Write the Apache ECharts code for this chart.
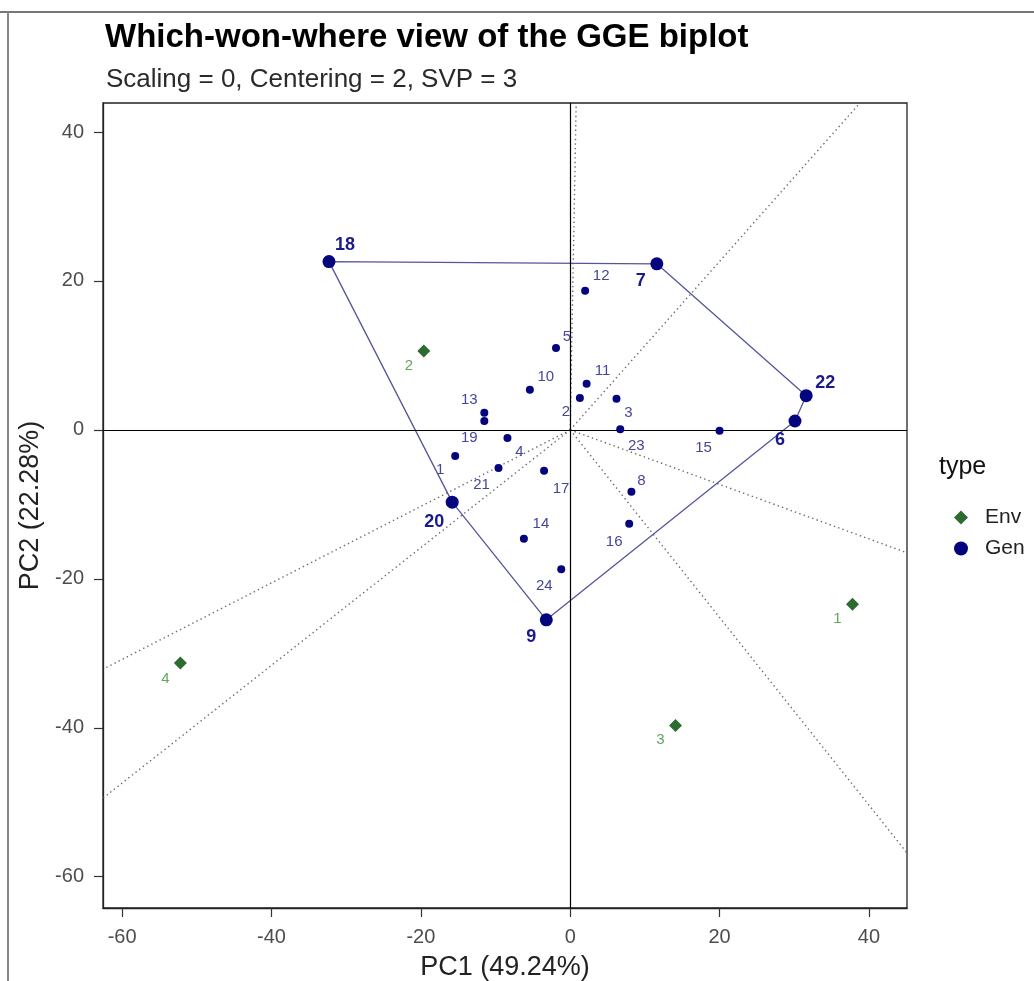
<!DOCTYPE html>
<html>
<head>
<meta charset="utf-8">
<script src="https://cdn.jsdelivr.net/npm/echarts@6/dist/echarts.min.js"></script>
<style>html,body{margin:0;padding:0;background:#fff;}#c{width:1034px;height:981px;}</style>
</head>
<body>
<div id="c"></div>
<script>
// ---- data ----
var genLabels = ['1','2','3','4','5','6','7','8','9','10','11','12','13','14','15','16','17','18','19','20','21','22','23','24'];
var genPC1 = [-15.4, 1.3, 6.2, -8.4, -1.9, 30.1, 11.6, 8.2, -3.2, -5.4, 2.2, 2.0, -11.5, -6.2, 20.0, 7.9, -3.5, -32.3, -11.5, -15.8, -9.6, 31.6, 6.7, -1.2];
var genPC2 = [-3.5, 4.3, 4.2, -1.1, 11.0, 1.2, 22.3, -8.3, -25.5, 5.4, 6.2, 18.7, 2.3, -14.6, -0.1, -12.6, -5.5, 22.6, 1.2, -9.7, -5.1, 4.6, 0.1, -18.7];
var envLabels = ['1','2','3','4'];
var envPC1 = [37.8, -19.6, 14.1, -52.2];
var envPC2 = [-23.4, 10.6, -39.7, -31.3];
var hullOrder = ['18','7','22','6','9','20'];
// ray end points (where the dotted sector lines leave the panel)
var rayPC1 = [0.8, 38.8, 45.1, 45.1, -62.5, -62.5];
var rayPC2 = [43.9, 43.9, -16.5, -56.8, -49.4, -32.1];
var xTicks = [-60, -40, -20, 0, 20, 40];
var yTicks = [-60, -40, -20, 0, 20, 40];

// ---- layout (label offsets, px) ----
var genLabelOffset = {
  '1':[-15,14],'2':[-14,14],'3':[12,14],'4':[12,14],'5':[11,-11],'6':[-15,19],'7':[-16,17],'8':[10,-11],
  '9':[-15,17],'10':[16,-13],'11':[16,-13],'12':[16,-15],'13':[-15,-13],'14':[17,-15],'15':[-16,17],
  '16':[-15,18],'17':[17,18],'18':[16,-17],'19':[-15,17],'20':[-18,20],'21':[-17,17],'22':[19,-13],
  '23':[16,17],'24':[-17,17]
};
var envLabelOffset = [[-15,15],[-15,15],[-15,14],[-15,16]];

var GEN = '#04047e', ENV = '#2e6b30';
var FONT = 'Liberation Sans';
var genData = genLabels.map(function(l, i){
  var big = hullOrder.indexOf(l) >= 0;
  return {
    value: [genPC1[i], genPC2[i]],
    symbolSize: big ? 13 : 8,
    label: {
      show: true, formatter: l, position: 'inside', offset: genLabelOffset[l],
      fontSize: big ? 18 : 15, fontWeight: big ? 'bold' : 'normal',
      color: big ? '#1a1a8c' : '#46469a', fontFamily: FONT
    }
  };
});
var envData = envLabels.map(function(l, i){
  return {
    value: [envPC1[i], envPC2[i]],
    label: { show: true, formatter: l, position: 'inside', offset: envLabelOffset[i],
      fontSize: 15, color: '#62a662', fontFamily: FONT }
  };
});
var hullData = hullOrder.concat([hullOrder[0]]).map(function(l){
  var i = genLabels.indexOf(l); return [genPC1[i], genPC2[i]];
});
var raySeries = rayPC1.map(function(x, i){
  return { type: 'line', data: [[0,0],[x, rayPC2[i]]], symbol: 'none', silent: true, z: 1,
    lineStyle: { color: '#6a6a6a', width: 1.4, type: [1.4, 3.2] } };
});

var chart = echarts.init(document.getElementById('c'));
chart.setOption({
  backgroundColor: '#fff',
  animation: false,
  title: [
    { text: 'Which-won-where view of the GGE biplot', left: 100, top: 16,
      textStyle: { fontSize: 33, fontWeight: 'bold', color: '#000', fontFamily: FONT } },
    { text: 'Scaling = 0, Centering = 2, SVP = 3', left: 101, top: 62,
      textStyle: { fontSize: 26, fontWeight: 'normal', color: '#2a2a2a', fontFamily: FONT } }
  ],
  grid: { left: 103, right: 127, top: 103, bottom: 73, outerBoundsMode: 'none', containLabel: false,
    show: true, borderColor: '#222', borderWidth: 1.3, backgroundColor: '#fff' },
  xAxis: {
    type: 'value', min: -62.56, max: 45.1,
    name: 'PC1 (49.24%)', nameLocation: 'middle', nameGap: 46,
    nameTextStyle: { fontSize: 27, color: '#222', fontFamily: FONT },
    splitLine: { show: false },
    axisLine: { show: true, onZero: false, lineStyle: { color: '#222', width: 1.3 } },
    axisTick: { show: true, length: 9, customValues: xTicks, lineStyle: { color: '#333', width: 1.2 } },
    axisLabel: { customValues: xTicks, fontSize: 20, color: '#4d4d4d', margin: 19, fontFamily: FONT }
  },
  yAxis: {
    type: 'value', min: -64.2, max: 43.9,
    name: 'PC2 (22.28%)', nameLocation: 'middle', nameGap: 58, nameRotate: 90,
    nameTextStyle: { fontSize: 27, color: '#222', fontFamily: FONT },
    splitLine: { show: false },
    axisLine: { show: true, onZero: false, lineStyle: { color: '#222', width: 1.3 } },
    axisTick: { show: true, length: 9, customValues: yTicks, lineStyle: { color: '#333', width: 1.2 } },
    axisLabel: { customValues: yTicks, fontSize: 20, color: '#4d4d4d', margin: 19, fontFamily: FONT }
  },
  legend: {
    orient: 'vertical', left: 949, top: 502, itemGap: 10, itemWidth: 14, itemHeight: 14,
    data: [{ name: 'Env', icon: 'diamond' }, { name: 'Gen', icon: 'circle' }],
    textStyle: { fontSize: 21, color: '#222', fontFamily: FONT, padding: [0, 0, 0, 12] }
  },
  graphic: [
    { type: 'text', left: 939, top: 455, style: { text: 'type', fontSize: 25, fill: '#111', fontFamily: FONT } },
    { type: 'line', shape: { x1: 0, y1: 12, x2: 1034, y2: 12 }, style: { stroke: '#777', lineWidth: 2 } },
    { type: 'line', shape: { x1: 8, y1: 12, x2: 8, y2: 981 }, style: { stroke: '#888', lineWidth: 2 } }
  ],
  series: raySeries.concat([
    { type: 'line', data: [], symbol: 'none', silent: true, z: 2,
      markLine: { silent: true, symbol: 'none', label: { show: false },
        lineStyle: { color: '#000', width: 1.2, type: 'solid' },
        data: [{ xAxis: 0 }, { yAxis: 0 }] } },
    { type: 'line', data: hullData, symbol: 'none', silent: true, z: 3,
      lineStyle: { color: '#55559a', width: 1.3 } },
    { name: 'Env', type: 'scatter', symbol: 'diamond', symbolSize: 13, data: envData, z: 5,
      itemStyle: { color: ENV, opacity: 1 } },
    { name: 'Gen', type: 'scatter', symbol: 'circle', data: genData, z: 5,
      itemStyle: { color: GEN, opacity: 1 } }
  ])
});
</script>
</body>
</html>
